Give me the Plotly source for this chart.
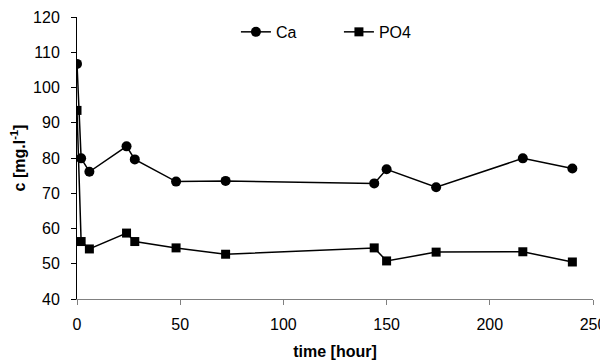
import plotly.graph_objects as go

time_h = [0, 2, 6, 24, 28, 48, 72, 144, 150, 174, 216, 240]
ca = [106.7, 79.9, 76.1, 83.3, 79.6, 73.3, 73.5, 72.8, 76.8, 71.7, 79.9, 77.0]
po4 = [93.5, 56.3, 54.2, 58.7, 56.3, 54.5, 52.7, 54.5, 50.8, 53.3, 53.4, 50.5]

fig = go.Figure()
fig.add_trace(go.Scatter(x=time_h, y=ca, name="Ca", mode="lines+markers",
                         line=dict(color="black", width=1.5),
                         marker=dict(symbol="circle", size=10, color="black")))
fig.add_trace(go.Scatter(x=time_h, y=po4, name="PO4", mode="lines+markers",
                         line=dict(color="black", width=1.5),
                         marker=dict(symbol="square", size=9, color="black")))

# page body has an 8px default margin, so the figure is 600x352
fig.update_layout(
    width=600, height=352,
    margin=dict(l=69, r=15, t=7, b=61),
    plot_bgcolor="white", paper_bgcolor="white",
    font=dict(family="Liberation Sans, Arial", size=16, color="black"),
    showlegend=True,
    legend=dict(orientation="h", x=0.308, y=0.947, xanchor="left", yanchor="middle",
                font=dict(size=16), entrywidth=58, entrywidthmode="pixels",
                itemwidth=30, tracegroupgap=0, bgcolor="rgba(0,0,0,0)"),
    xaxis=dict(range=[0, 250], tickvals=[0, 50, 100, 150, 200, 250],
               showgrid=False, zeroline=False, showline=True, linecolor="#808080",
               linewidth=1, ticks="outside", ticklen=5, tickcolor="#808080",
               ticklabelstandoff=6, automargin=False,
               tickfont=dict(size=16),
               title=dict(text="<b>time [hour]</b>", font=dict(size=16))),
    yaxis=dict(range=[40, 120], tickvals=[40, 50, 60, 70, 80, 90, 100, 110, 120],
               showgrid=False, zeroline=False, showline=True, linecolor="black",
               linewidth=1, ticks="outside", ticklen=5, tickcolor="black",
               ticklabelstandoff=8, automargin=False,
               tickfont=dict(size=16),
               title=dict(text="<b>c [mg.l<sup>-1</sup>]</b>", font=dict(size=16))),
)

fig.write_html("out.html")
